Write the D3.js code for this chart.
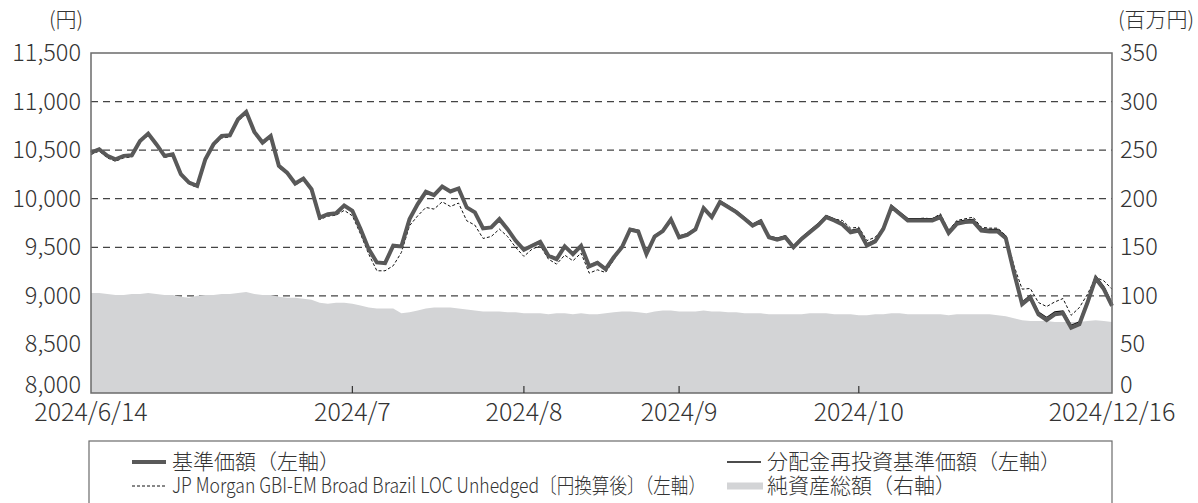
<!DOCTYPE html>
<html lang="ja">
<head>
<meta charset="utf-8">
<script src="https://cdn.jsdelivr.net/npm/d3@7"></script>
<style>
  body { margin: 0; background: #fff; }
  svg { display: block; font-family: "Noto Sans CJK JP", "Noto Sans", sans-serif; font-weight: 300; }
</style>
</head>
<body>
<div id="chart"></div>
<script>
// ============================================
// DATA (one value per business day, 2024/6/14 - 2024/12/16)
// ============================================

const basePrice = [
  10475, 10509, 10441, 10406, 10441, 10447, 10595, 10670, 10561, 10441,
  10458, 10252, 10166, 10132, 10406, 10561, 10646, 10653, 10818, 10894,
  10688, 10578, 10646, 10338, 10269, 10156, 10207, 10097, 9806, 9840,
  9850, 9930, 9876, 9687, 9481, 9344, 9337, 9516, 9509, 9790,
  9944, 10071, 10037, 10126, 10075, 10106, 9910, 9859, 9694, 9704,
  9790, 9687, 9567, 9474, 9516, 9557, 9413, 9378, 9509, 9430,
  9516, 9303, 9340, 9276, 9397, 9500, 9683, 9662, 9431, 9610,
  9666, 9786, 9603, 9628, 9683, 9903, 9810, 9966, 9914, 9862,
  9793, 9724, 9766, 9603, 9579, 9603, 9500, 9586, 9655, 9724,
  9810, 9776, 9735, 9655, 9672, 9517, 9559, 9690, 9914, 9845,
  9776, 9776, 9776, 9776, 9810, 9648, 9741, 9759, 9766, 9672,
  9662, 9662, 9593, 9241, 8914, 8983, 8810, 8752, 8810, 8821,
  8672, 8707, 8931, 9179, 9069, 8897,
];

const reinvestPrice = [
  10475, 10509, 10441, 10406, 10441, 10447, 10595, 10670, 10561, 10441,
  10458, 10252, 10166, 10132, 10406, 10561, 10646, 10653, 10818, 10894,
  10690, 10580, 10648, 10340, 10272, 10160, 10210, 10100, 9810, 9845,
  9855, 9935, 9880, 9692, 9486, 9350, 9343, 9522, 9515, 9796,
  9950, 10078, 10044, 10133, 10082, 10113, 9918, 9867, 9702, 9712,
  9798, 9695, 9575, 9482, 9525, 9566, 9422, 9387, 9518, 9440,
  9526, 9313, 9350, 9287, 9408, 9511, 9694, 9674, 9443, 9622,
  9678, 9798, 9616, 9641, 9696, 9916, 9824, 9980, 9928, 9876,
  9808, 9739, 9781, 9618, 9595, 9619, 9516, 9602, 9672, 9741,
  9827, 9793, 9752, 9673, 9690, 9535, 9577, 9709, 9933, 9864,
  9796, 9796, 9796, 9796, 9830, 9668, 9762, 9780, 9787, 9693,
  9684, 9684, 9615, 9263, 8937, 9006, 8833, 8776, 8834, 8845,
  8697, 8732, 8956, 9205, 9095, 8923,
];

const benchmark = [
  10455, 10490, 10420, 10385, 10420, 10430, 10580, 10650, 10545, 10425,
  10440, 10235, 10150, 10115, 10390, 10545, 10625, 10635, 10800, 10870,
  10665, 10560, 10630, 10320, 10250, 10140, 10190, 10080, 9785, 9820,
  9830, 9880, 9824, 9636, 9430, 9258, 9258, 9310, 9447, 9722,
  9824, 9910, 9893, 9968, 9920, 9955, 9773, 9728, 9591, 9611,
  9687, 9611, 9498, 9406, 9481, 9516, 9378, 9327, 9419, 9361,
  9440, 9234, 9268, 9241, 9370, 9490, 9675, 9655, 9425, 9605,
  9660, 9780, 9600, 9625, 9680, 9900, 9810, 9966, 9920, 9870,
  9800, 9735, 9775, 9615, 9590, 9615, 9515, 9600, 9670, 9740,
  9825, 9790, 9776, 9697, 9707, 9569, 9603, 9697, 9924, 9855,
  9793, 9793, 9800, 9793, 9845, 9672, 9776, 9793, 9810, 9707,
  9697, 9697, 9621, 9310, 9069, 9076, 8931, 8890, 8938, 8972,
  8800, 8879, 9017, 9190, 9155, 9069,
];

// 純資産総額 (百万円)
const netAssets = [
  103, 103, 102, 101, 101, 102, 102, 103, 102, 101,
  101, 99, 98, 100, 101, 101, 102, 102, 103, 104,
  102, 101, 101, 99, 98, 98, 97, 96, 93, 92,
  93, 93, 92, 90, 88, 87, 87, 87, 82, 83,
  85, 87, 88, 88, 88, 87, 86, 85, 84, 84,
  84, 83, 83, 82, 82, 82, 81, 82, 82, 81,
  82, 81, 81, 82, 83, 84, 84, 83, 82, 84,
  85, 85, 84, 84, 84, 85, 84, 84, 83, 83,
  82, 82, 82, 81, 81, 81, 81, 81, 82, 82,
  82, 81, 81, 81, 80, 80, 81, 81, 82, 82,
  81, 81, 81, 81, 81, 80, 81, 81, 81, 81,
  81, 80, 79, 77, 75, 74, 74, 74, 73, 73,
  73, 73, 74, 75, 74, 73,
];

const leftTicks = [8000, 8500, 9000, 9500, 10000, 10500, 11000, 11500];
const rightTicks = [0, 50, 100, 150, 200, 250, 300, 350];
const xTickIndex = [0, 32, 53, 72, 94, 125];
const xTickLabels = ["2024/6/14", "2024/7", "2024/8", "2024/9", "2024/10", "2024/12/16"];

const legendItems = [
  { label: "基準価額（左軸）", kind: "base", col: 0, row: 0 },
  { label: "分配金再投資基準価額（左軸）", kind: "reinvest", col: 1, row: 0 },
  { label: "JP Morgan GBI-EM Broad Brazil LOC Unhedged〔円換算後〕（左軸）", kind: "bench", col: 0, row: 1 },
  { label: "純資産総額（右軸）", kind: "assets", col: 1, row: 1 },
];

// ============================================
// LAYOUT & STYLE
// ============================================

const WIDTH = 1198;
const HEIGHT = 503;
const PLOT = { left: 91, right: 1112, top: 53, bottom: 393 };
const TEXT_COLOR = "#333";
const FONT_SIZE = 23.5;
const DATE_FONT_SIZE = 25;

const STYLES = {
  base: { stroke: "#595959", width: 4, dash: null },
  reinvest: { stroke: "#111", width: 1.3, dash: null },
  bench: { stroke: "#111", width: 1, dash: "3,2" },
  assets: "#d3d4d6",
};

// ============================================
// DRAW
// ============================================

const svg = d3
  .select("#chart")
  .append("svg")
  .attr("width", WIDTH)
  .attr("height", HEIGHT);

svg.append("rect").attr("width", WIDTH).attr("height", HEIGHT).attr("fill", "#fff");

const x = d3.scaleLinear().domain([0, basePrice.length - 1]).range([PLOT.left, PLOT.right]);
const yLeft = d3.scaleLinear().domain([8000, 11500]).range([PLOT.bottom, PLOT.top]);
const yRight = d3.scaleLinear().domain([0, 350]).range([PLOT.bottom, PLOT.top]);

// dashed gridlines
svg
  .append("g")
  .selectAll("line")
  .data(leftTicks.slice(1, -1))
  .join("line")
  .attr("x1", PLOT.left)
  .attr("x2", PLOT.right)
  .attr("y1", (d) => yLeft(d))
  .attr("y2", (d) => yLeft(d))
  .attr("stroke", "#444")
  .attr("stroke-width", 1.2)
  .attr("stroke-dasharray", "7,5");

// net assets area (right axis)
const area = d3
  .area()
  .x((d, i) => x(i))
  .y0(yRight(0))
  .y1((d) => yRight(d));

svg.append("path").datum(netAssets).attr("d", area).attr("fill", STYLES.assets);

/**
 * Draw one price series against the left axis
 */
function drawLine(values, style) {
  const line = d3
    .line()
    .x((d, i) => x(i))
    .y((d) => yLeft(d));
  svg
    .append("path")
    .datum(values)
    .attr("d", line)
    .attr("fill", "none")
    .attr("stroke", style.stroke)
    .attr("stroke-width", style.width)
    .attr("stroke-dasharray", style.dash)
    .attr("stroke-linejoin", "miter");
}

drawLine(benchmark, STYLES.bench);
drawLine(reinvestPrice, STYLES.reinvest);
drawLine(basePrice, STYLES.base);

// plot frame
svg
  .append("rect")
  .attr("x", PLOT.left)
  .attr("y", PLOT.top)
  .attr("width", PLOT.right - PLOT.left)
  .attr("height", PLOT.bottom - PLOT.top)
  .attr("fill", "none")
  .attr("stroke", "#6b6b6b")
  .attr("stroke-width", 1.5);

// left axis labels (lowest one is lifted clear of the date labels)
const fmt = d3.format(",");
svg
  .append("g")
  .selectAll("text")
  .data(leftTicks)
  .join("text")
  .attr("x", PLOT.left - 10)
  .attr("y", (d, i) => yLeft(d) + 8 - (i === 0 ? 8 : 0))
  .attr("text-anchor", "end")
  .attr("font-size", FONT_SIZE)
  .attr("fill", TEXT_COLOR)
  .text((d) => fmt(d));

// right axis labels
svg
  .append("g")
  .selectAll("text")
  .data(rightTicks)
  .join("text")
  .attr("x", PLOT.right + 8)
  .attr("y", (d, i) => yRight(d) + 8 - (i === 0 ? 8 : 0))
  .attr("text-anchor", "start")
  .attr("font-size", FONT_SIZE)
  .attr("fill", TEXT_COLOR)
  .text((d) => d);

// unit labels
svg.append("text").attr("x", 66).attr("y", 27).attr("text-anchor", "middle")
  .attr("font-size", 21).attr("fill", TEXT_COLOR).text("(円)");
svg.append("text").attr("x", 1156).attr("y", 27).attr("text-anchor", "middle")
  .attr("font-size", 21).attr("fill", TEXT_COLOR).text("(百万円)");

// x ticks (inside) and labels
svg
  .append("g")
  .selectAll("line")
  .data(xTickIndex.slice(1, -1))
  .join("line")
  .attr("x1", (d) => x(d))
  .attr("x2", (d) => x(d))
  .attr("y1", PLOT.bottom)
  .attr("y2", PLOT.bottom - 7)
  .attr("stroke", "#333")
  .attr("stroke-width", 1.2);

svg
  .append("g")
  .selectAll("text")
  .data(xTickIndex)
  .join("text")
  .attr("x", (d) => x(d))
  .attr("y", PLOT.bottom + 28)
  .attr("text-anchor", "middle")
  .attr("font-size", DATE_FONT_SIZE)
  .attr("fill", TEXT_COLOR)
  .text((d, i) => xTickLabels[i]);

// ============================================
// LEGEND
// ============================================

const legend = svg.append("g");
legend
  .append("rect")
  .attr("x", 89)
  .attr("y", 441)
  .attr("width", PLOT.right - 89)
  .attr("height", 80)
  .attr("fill", "#fff")
  .attr("stroke", "#6b6b6b")
  .attr("stroke-width", 1.2);

const colX = [132, 727];
const rowY = [462, 486];

legendItems.forEach((item) => {
  const lx = colX[item.col];
  const ly = rowY[item.row];
  if (item.kind === "assets") {
    legend.append("line").attr("x1", lx).attr("x2", lx + 36).attr("y1", ly).attr("y2", ly)
      .attr("stroke", STYLES.assets).attr("stroke-width", 7);
  } else {
    const s = STYLES[item.kind];
    legend.append("line").attr("x1", lx).attr("x2", lx + 34).attr("y1", ly).attr("y2", ly)
      .attr("stroke", s.stroke).attr("stroke-width", s.width).attr("stroke-dasharray", s.dash);
  }
  const t = legend
    .append("text")
    .attr("x", lx + 40)
    .attr("y", ly + 7)
    .attr("font-size", 21)
    .attr("fill", TEXT_COLOR)
    .text(item.label);
  if (item.kind === "bench") {
    t.attr("textLength", 534).attr("lengthAdjust", "spacingAndGlyphs");
  }
});
</script>
</body>
</html>
